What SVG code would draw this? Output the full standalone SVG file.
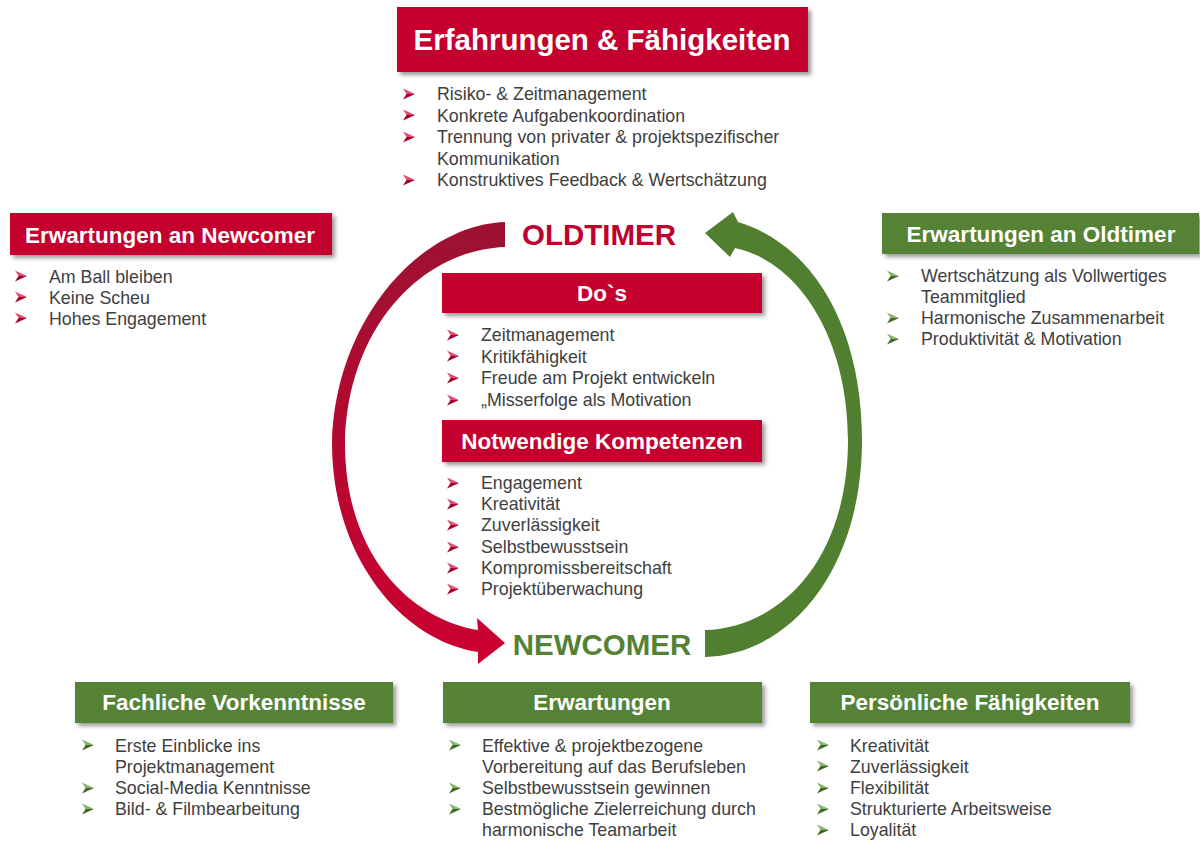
<svg xmlns="http://www.w3.org/2000/svg" xmlns:xlink="http://www.w3.org/1999/xlink" width="1200" height="841" viewBox="0 0 1200 841">
<defs>
<style>
.rb{fill:#C3002F;filter:url(#sh)}
.gb{fill:#548235;filter:url(#sh)}
.ht{font-family:"Liberation Sans",Arial,sans-serif;font-weight:bold;fill:#FFFFFF;text-anchor:middle}
.bt{font-family:"Liberation Sans",Arial,sans-serif;font-size:17.8px;fill:#404040}
.big{font-family:"Liberation Sans",Arial,sans-serif;font-weight:bold;font-size:29.5px;text-anchor:middle}
</style>
<filter id="sh" x="-5%" y="-20%" width="115%" height="160%">
<feDropShadow dx="3" dy="3" stdDeviation="2" flood-color="#7F7F7F" flood-opacity="0.8"/>
</filter>
<linearGradient id="rg" gradientUnits="userSpaceOnUse" x1="0" y1="220" x2="0" y2="665">
<stop offset="0" stop-color="#9C1230"/>
<stop offset="1" stop-color="#CC0030"/>
</linearGradient>
<g id="bR"><path d="M0,0 L12,5.5 L3.5,5.5 Z" fill="#E24A70"/><path d="M3.5,5.5 L12,5.5 L0,11 Z" fill="#A5002A"/></g>
<g id="bG"><path d="M0,0 L12,5.5 L3.5,5.5 Z" fill="#8DB06A"/><path d="M3.5,5.5 L12,5.5 L0,11 Z" fill="#3E6B22"/></g>
</defs>
<rect width="1200" height="841" fill="#FFFFFF"/>

<g id="connectors">
<path id="redArrow" fill="url(#rg)" d="M505,222 C420,225 335,320 332,443 C332,555 400,640 478,652 L478,664 L505,643 L477,618 L478,630 C415,620 345,560 345,443 C347,330 420,250 505,247 Z"/>
<path id="greenArrow" fill="#4F7F2F" d="M705,657 C790,655 862,570 862,440 C862,330 815,245 738,222 L733,212 L705,233 L730,257 L735,248 C800,262 848,340 848,440 C848,560 780,628 705,630 Z"/>
</g>

<g id="oldtimer"><text class="big" x="599" y="245" fill="#C00030">OLDTIMER</text></g>
<g id="newcomer"><text class="big" x="602" y="655" fill="#548235">NEWCOMER</text></g>

<g id="erfahrungen">
<rect class="rb" x="397" y="7" width="411" height="65"/>
<text class="ht" x="602" y="50" font-size="29.5">Erfahrungen &amp; Fähigkeiten</text>
<use xlink:href="#bR" x="403" y="88.5"/><text class="bt" x="437" y="100">Risiko- &amp; Zeitmanagement</text>
<use xlink:href="#bR" x="403" y="109.5"/><text class="bt" x="437" y="121.5">Konkrete Aufgabenkoordination</text>
<use xlink:href="#bR" x="403" y="131.5"/><text class="bt" x="437" y="143">Trennung von privater &amp; projektspezifischer</text>
<text class="bt" x="437" y="164.5">Kommunikation</text>
<use xlink:href="#bR" x="403" y="174.5"/><text class="bt" x="437" y="186">Konstruktives Feedback &amp; Wertschätzung</text>
</g>

<g id="erwNewcomer">
<rect class="rb" x="10" y="213" width="322" height="42"/>
<text class="ht" x="170" y="243" font-size="22.5">Erwartungen an Newcomer</text>
<use xlink:href="#bR" x="15" y="270.5"/><text class="bt" x="49" y="283">Am Ball bleiben</text>
<use xlink:href="#bR" x="15" y="291.5"/><text class="bt" x="49" y="304">Keine Scheu</text>
<use xlink:href="#bR" x="15" y="312.5"/><text class="bt" x="49" y="325">Hohes Engagement</text>
</g>

<g id="erwOldtimer">
<rect class="gb" x="882" y="213" width="317" height="41"/>
<text class="ht" x="1041" y="242" font-size="22.5">Erwartungen an Oldtimer</text>
<use xlink:href="#bG" x="887" y="270.5"/><text class="bt" x="921" y="282">Wertschätzung als Vollwertiges</text>
<text class="bt" x="921" y="303">Teammitglied</text>
<use xlink:href="#bG" x="887" y="312.5"/><text class="bt" x="921" y="324">Harmonische Zusammenarbeit</text>
<use xlink:href="#bG" x="887" y="333.5"/><text class="bt" x="921" y="345">Produktivität &amp; Motivation</text>
</g>

<g id="dos">
<rect class="rb" x="442" y="273" width="320" height="40"/>
<text class="ht" x="602" y="301" font-size="22.5">Do`s</text>
<use xlink:href="#bR" x="447" y="329.5"/><text class="bt" x="481" y="341">Zeitmanagement</text>
<use xlink:href="#bR" x="447" y="350.5"/><text class="bt" x="481" y="362.5">Kritikfähigkeit</text>
<use xlink:href="#bR" x="447" y="372.5"/><text class="bt" x="481" y="384">Freude am Projekt entwickeln</text>
<use xlink:href="#bR" x="447" y="394.5"/><text class="bt" x="481" y="406">„Misserfolge als Motivation</text>
</g>

<g id="kompetenzen">
<rect class="rb" x="442" y="420" width="320" height="42"/>
<text class="ht" x="602" y="449" font-size="22.5">Notwendige Kompetenzen</text>
<use xlink:href="#bR" x="447" y="477.5"/><text class="bt" x="481" y="489">Engagement</text>
<use xlink:href="#bR" x="447" y="498.5"/><text class="bt" x="481" y="510">Kreativität</text>
<use xlink:href="#bR" x="447" y="519.5"/><text class="bt" x="481" y="531">Zuverlässigkeit</text>
<use xlink:href="#bR" x="447" y="541.5"/><text class="bt" x="481" y="553">Selbstbewusstsein</text>
<use xlink:href="#bR" x="447" y="562.5"/><text class="bt" x="481" y="574">Kompromissbereitschaft</text>
<use xlink:href="#bR" x="447" y="583.5"/><text class="bt" x="481" y="595">Projektüberwachung</text>
</g>

<g id="fachliche">
<rect class="gb" x="75" y="682" width="318" height="41"/>
<text class="ht" x="234" y="710" font-size="22.5">Fachliche Vorkenntnisse</text>
<use xlink:href="#bG" x="82" y="739.5"/><text class="bt" x="115" y="752">Erste Einblicke ins</text>
<text class="bt" x="115" y="773">Projektmanagement</text>
<use xlink:href="#bG" x="82" y="782.5"/><text class="bt" x="115" y="794">Social-Media Kenntnisse</text>
<use xlink:href="#bG" x="82" y="803.5"/><text class="bt" x="115" y="815">Bild- &amp; Filmbearbeitung</text>
</g>

<g id="erwartungen">
<rect class="gb" x="443" y="682" width="319" height="41"/>
<text class="ht" x="602" y="710" font-size="22.5">Erwartungen</text>
<use xlink:href="#bG" x="449" y="739.5"/><text class="bt" x="482" y="752">Effektive &amp; projektbezogene</text>
<text class="bt" x="482" y="773">Vorbereitung auf das Berufsleben</text>
<use xlink:href="#bG" x="449" y="782.5"/><text class="bt" x="482" y="794">Selbstbewusstsein gewinnen</text>
<use xlink:href="#bG" x="449" y="803.5"/><text class="bt" x="482" y="815">Bestmögliche Zielerreichung durch</text>
<text class="bt" x="482" y="836">harmonische Teamarbeit</text>
</g>

<g id="persoenliche">
<rect class="gb" x="810" y="682" width="320" height="41"/>
<text class="ht" x="970" y="710" font-size="22.5">Persönliche Fähigkeiten</text>
<use xlink:href="#bG" x="817" y="739.5"/><text class="bt" x="850" y="752">Kreativität</text>
<use xlink:href="#bG" x="817" y="760.5"/><text class="bt" x="850" y="773">Zuverlässigkeit</text>
<use xlink:href="#bG" x="817" y="782.5"/><text class="bt" x="850" y="794">Flexibilität</text>
<use xlink:href="#bG" x="817" y="803.5"/><text class="bt" x="850" y="815">Strukturierte Arbeitsweise</text>
<use xlink:href="#bG" x="817" y="824.5"/><text class="bt" x="850" y="836">Loyalität</text>
</g>
</svg>
